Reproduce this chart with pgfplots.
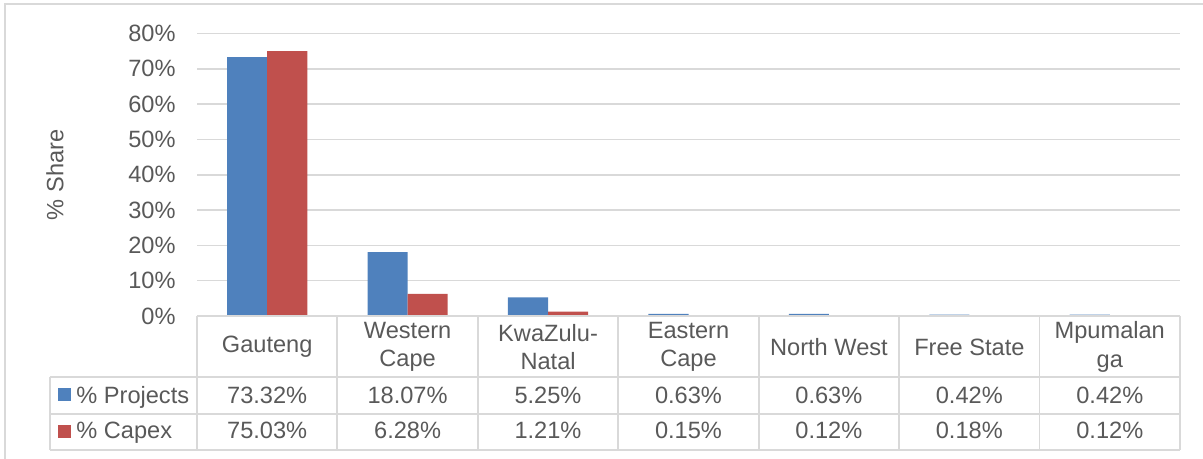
\documentclass[border=0pt]{standalone}
\usepackage{fontspec}
\setmainfont{Liberation Sans}
\usepackage{pgfplots}
\pgfplotsset{compat=1.18}
\definecolor{projblue}{HTML}{4F81BD}
\definecolor{capexred}{HTML}{C0504D}
\definecolor{gridgray}{HTML}{D9D9D9}
\definecolor{txtgray}{HTML}{595959}

\begin{document}
\fontsize{11.8bp}{14.2bp}\selectfont
\begin{tikzpicture}
  \path[use as bounding box] (0,0) rectangle (601.5bp,229.5bp);
  \begin{axis}[
      at={(98.5bp,71.5bp)}, anchor=south west,
      scale only axis, width=491.5bp, height=141.25bp,
      ybar=0pt, bar width=20.05bp,
      xmin=-0.5, xmax=6.5, ymin=0, ymax=80,
      xtick={0,1,2,3,4,5,6},
      xticklabels={Gauteng,{Western\\Cape},{KwaZulu-\\Natal},{Eastern\\Cape},North West,Free State,{Mpumalan\\ga}},
      xticklabel style={align=center, anchor=center, yshift=-15.5bp, text=txtgray},
      ytick={0,10,...,80},
      yticklabel={\pgfmathprintnumber{\tick}\%},
      yticklabel style={anchor=east, inner sep=0pt, xshift=-10.5bp, text=txtgray},
      /pgf/number format/assume math mode=true,
      ymajorgrids, grid style={gridgray, line width=0.8bp},
      axis line style={draw=none},
      major tick length=0pt,
      ylabel={\% Share},
      ylabel style={at={(axis description cs:-0.1445,0.5)}, anchor=center, text=txtgray},
      clip=false,
    ]
    \addplot[fill=projblue, draw=none] coordinates {
      (0,73.32)(1,18.07)(2,5.25)(3,0.63)(4,0.63)(5,0.42)(6,0.42)};
    \addplot[fill=capexred, draw=none] coordinates {
      (0,75.03)(1,6.28)(2,1.21)(3,0.15)(4,0.12)(5,0.18)(6,0.12)};
  \end{axis}

  % data table and outer frame, in pixel units of the reference
  \begin{scope}[x=0.5bp, y=-0.5bp, yshift=229.5bp]
    \draw[gridgray, line width=0.8bp] (5,470) -- (5,4) -- (1215,4);
    \draw[gridgray, line width=0.9bp] (197,316) -- (1180,316);
    \foreach \yy in {377,414,450}
      \draw[gridgray, line width=0.9bp] (50,\yy) -- (1180,\yy);
    \foreach \xx in {197,337.4,477.9,618.3,758.7,899.1,1039.6,1180}
      \draw[gridgray, line width=0.9bp] (\xx,316) -- (\xx,450);
    \draw[gridgray, line width=0.9bp] (50,377) -- (50,450);
    \fill[projblue] (58,388) rectangle (71,401);
    \fill[capexred] (58,425) rectangle (71,438);
    \node[anchor=base west, inner sep=0pt, text=txtgray] at (76,404) {\% Projects};
    \node[anchor=base west, inner sep=0pt, text=txtgray] at (76,439) {\% Capex};
    \foreach \cx/\p/\c in {267.2/73.32/75.03, 407.6/18.07/6.28, 548.0/5.25/1.21,
        688.5/0.63/0.15, 828.9/0.63/0.12, 969.3/0.42/0.18, 1109.8/0.42/0.12} {
      \node[anchor=base, inner sep=0pt, text=txtgray] at (\cx,404) {\p\%};
      \node[anchor=base, inner sep=0pt, text=txtgray] at (\cx,439) {\c\%};
    }
  \end{scope}
\end{tikzpicture}
\end{document}
